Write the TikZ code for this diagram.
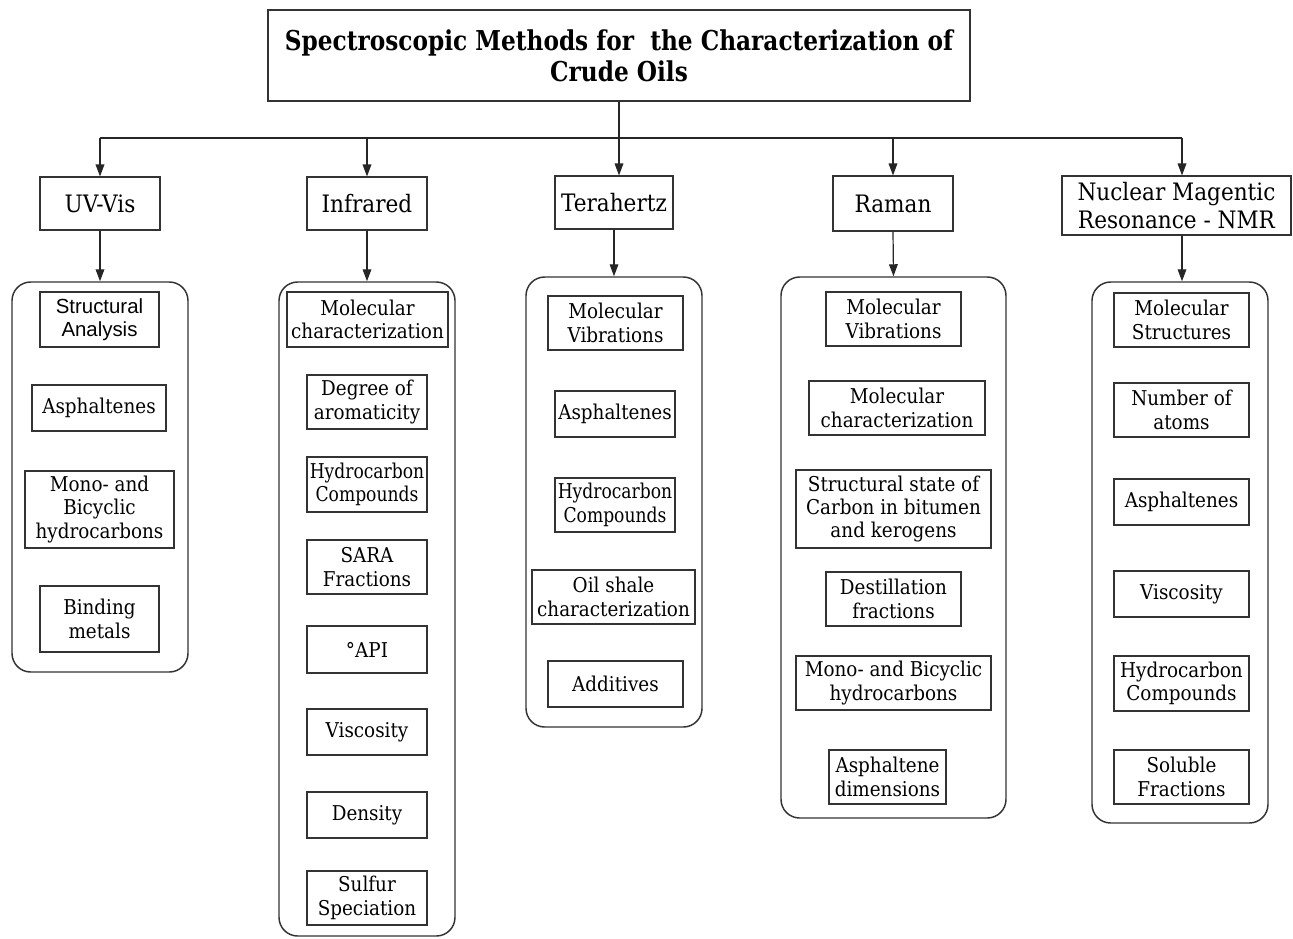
\documentclass[tikz,border=0pt]{standalone}
\usepackage{fontspec}
\setmainfont{DejaVu Serif}[FakeStretch=0.9]
\newfontfamily\narrowf{DejaVu Serif}[FakeStretch=0.84]
\newfontfamily\titlefont{DejaVu Serif}[FakeStretch=0.85]
\newfontfamily\sansf{Liberation Sans}
\usetikzlibrary{arrows.meta}
\tikzset{
  ln/.style={draw=black!85, line width=0.9pt},
  itm/.style={draw=black!80, line width=0.8pt, inner sep=0pt, align=center, font=\fontsize{15.3}{17.5}\selectfont},
  meth/.style={itm, font=\fontsize{18}{20.5}\selectfont},
  ttl/.style={itm, font=\titlefont\bfseries\fontsize{20.5}{23.5}\selectfont},
  cont/.style={draw=black!80, line width=1.1pt, rounded corners=14pt, inner sep=0pt},
  arr/.style={ln, -{Triangle[length=9pt,width=6.5pt]}}
}
\newcommand\bx[7][itm]{\node[#1, minimum width={(#5-#3)*0.75pt}, minimum height={(#6-#4)*0.75pt}] (#2) at ({(#3+#5)/2},{(#4+#6)/2}) {#7};}
\begin{document}
\begin{tikzpicture}[x=0.75pt, y=-0.75pt]
\useasboundingbox (0,0) rectangle (1293,939);
% title
\bx[ttl]{title}{268}{10}{970}{101}{Spectroscopic Methods for\ \ the Characterization of\\Crude Oils}
% method boxes
\bx[meth]{uv}{40}{177}{160}{230}{UV-Vis}
\bx[meth]{ir}{307}{177}{427}{230}{Infrared}
\bx[meth]{thz}{555}{176}{673}{229}{Terahertz}
\bx[meth]{ram}{833}{176}{953}{231}{Raman}
\bx[meth]{nmr}{1062}{176}{1291}{235}{Nuclear Magentic\\Resonance - NMR}
% containers
\bx[cont]{uvC}{12}{282}{188}{672}{}
\bx[cont]{irC}{279}{282}{455}{936}{}
\bx[cont]{thzC}{526}{277}{702}{727}{}
\bx[cont]{ramC}{781}{277}{1006}{818}{}
\bx[cont]{nmrC}{1092}{282}{1268}{823}{}
% connectors
\coordinate (jL) at (100,138);
\coordinate (jR) at (1182,138);
\draw[ln] (jL) -- (jR);
\draw[ln] (title.south) -- (title.south |- jL);
\draw[arr] (jL) -- (uv.north);
\draw[arr] (ir.north |- jL) -- (ir.north);
\draw[arr] (title.south |- jL) -- (title.south |- thz.north);
\draw[arr] (ram.north |- jL) -- (ram.north);
\draw[arr] (jR) -- (jR |- nmr.north);
\draw[arr] (uv.south) -- (uvC.north);
\draw[arr] (ir.south) -- (irC.north);
\draw[arr] (thz.south) -- (thzC.north);
\draw[arr] (ram.south) -- (ramC.north);
\draw[arr] (nmr.south -| jR) -- (jR |- nmrC.north);
% UV-Vis items
\bx{uv1}{40}{292}{159}{347}{\sansf Structural\\\sansf Analysis}
\bx{uv2}{32}{385}{166}{431}{Asphaltenes}
\bx{uv3}{25}{471}{174}{548}{Mono- and\\Bicyclic\\hydrocarbons}
\bx{uv4}{40}{586}{159}{652}{Binding\\metals}
% Infrared items
\bx{ir1}{287}{292}{448}{347}{Molecular\\characterization}
\bx{ir2}{307}{375}{427}{429}{Degree of\\aromaticity}
\bx{ir3}{307}{457}{427}{512}{\narrowf Hydrocarbon\\\narrowf Compounds}
\bx{ir4}{307}{540}{427}{594}{SARA\\Fractions}
\bx{ir5}{307}{626}{427}{673}{°API}
\bx{ir6}{307}{709}{427}{755}{Viscosity}
\bx{ir7}{307}{792}{427}{838}{Density}
\bx{ir8}{307}{871}{427}{925}{Sulfur\\Speciation}
% Terahertz items
\bx{th1}{548}{296}{683}{350}{Molecular\\Vibrations}
\bx{th2}{555}{391}{675}{437}{Asphaltenes}
\bx{th3}{555}{478}{675}{532}{\narrowf Hydrocarbon\\\narrowf Compounds}
\bx{th4}{532}{570}{695}{624}{Oil shale\\characterization}
\bx{th5}{548}{661}{683}{707}{Additives}
% Raman items
\bx{ra1}{826}{292}{961}{346}{Molecular\\Vibrations}
\bx{ra2}{809}{381}{985}{435}{Molecular\\characterization}
\bx{ra3}{796}{470}{991}{548}{Structural state of\\Carbon in bitumen\\and kerogens}
\bx{ra4}{826}{572}{961}{626}{Destillation\\fractions}
\bx{ra5}{796}{656}{991}{710}{Mono- and Bicyclic\\hydrocarbons}
\bx{ra6}{829}{750}{946}{804}{Asphaltene\\dimensions}
% NMR items
\bx{nm1}{1114}{293}{1249}{347}{Molecular\\Structures}
\bx{nm2}{1114}{383}{1249}{437}{Number of\\atoms}
\bx{nm3}{1114}{479}{1249}{525}{Asphaltenes}
\bx{nm4}{1114}{571}{1249}{617}{Viscosity}
\bx{nm5}{1114}{656}{1249}{711}{Hydrocarbon\\Compounds}
\bx{nm6}{1114}{750}{1249}{804}{Soluble\\Fractions}
\end{tikzpicture}
\end{document}
